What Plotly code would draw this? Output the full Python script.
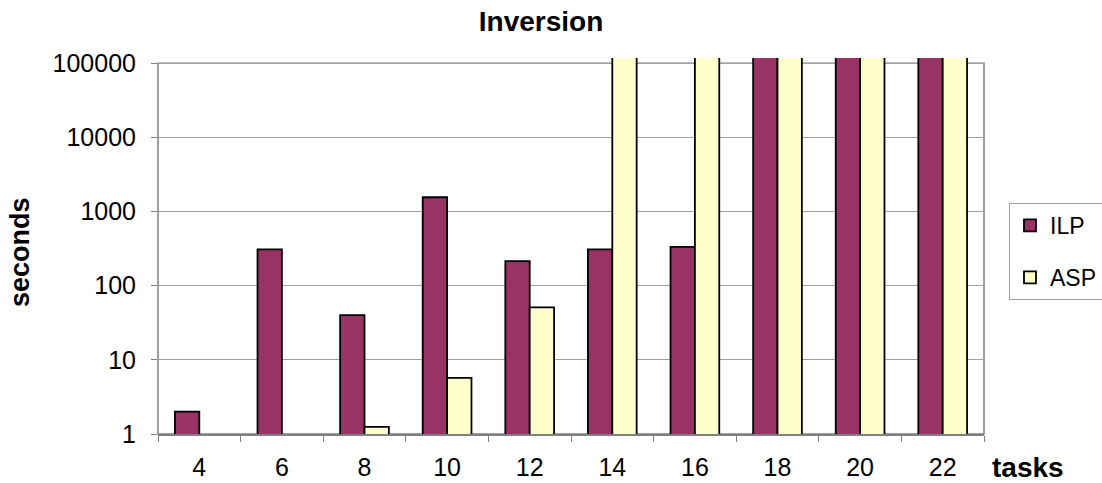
import math
import plotly.graph_objects as go

# Timing results (seconds) per number of tasks; runs that hit the limit
# are stored as the timeout value and run off the top of the axis.
TIMEOUT = 1000000
tasks = ["4", "6", "8", "10", "12", "14", "16", "18", "20", "22"]
ilp_seconds = [2, 310, 40, 1560, 215, 310, 335, TIMEOUT, TIMEOUT, TIMEOUT]
asp_seconds = [None, None, 1.25, 5.7, 51, TIMEOUT, TIMEOUT, TIMEOUT, TIMEOUT, TIMEOUT]
y_tick_values = [1, 10, 100, 1000, 10000, 100000]
y_tick_labels = ["1", "10", "100", "1000", "10000", "100000"]

FONT = "Liberation Sans, Arial, sans-serif"
W, H = 1102, 483
M_L, M_R, M_T, M_B = 158, 118, 58, 49
PW, PH = W - M_L - M_R, H - M_T - M_B
# log10 range: a little headroom above 100000 so timed-out bars poke out
Y_TOP = 5.0714
frame_top = math.log10(100000) / Y_TOP

fig = go.Figure()
fig.add_trace(go.Bar(
    x=tasks, y=ilp_seconds, name="ILP", legendgroup="ilp",
    marker=dict(color="#993366", line=dict(color="#000000", width=1.8)),
))
fig.add_trace(go.Bar(
    x=tasks, y=asp_seconds, name="ASP", legendgroup="asp",
    marker=dict(color="#FFFFCC", line=dict(color="#000000", width=1.8)),
))

fig.update_layout(
    width=W, height=H,
    margin=dict(l=M_L, r=M_R, t=M_T, b=M_B, pad=0, autoexpand=False),
    paper_bgcolor="white", plot_bgcolor="white",
    font=dict(family=FONT, size=25, color="black"),
    barmode="group", bargap=0.41, bargroupgap=0,
    showlegend=True,
    legend=dict(
        x=(1009 - M_L) / PW, xanchor="left",
        y=(H - M_B - 203) / PH, yanchor="top",
        bordercolor="#A0A0A0", borderwidth=1, bgcolor="white",
        font=dict(family=FONT, size=23, color="black"),
        tracegroupgap=19,
    ),
    title=dict(
        text="<b>Inversion</b>", xref="container", x=541 / W, xanchor="center",
        yref="container", y=1 - 21 / H, yanchor="middle",
        font=dict(family=FONT, size=28, color="black"),
    ),
)

fig.update_xaxes(
    type="category", showgrid=False, zeroline=False,
    showline=True, linecolor="#808080", linewidth=1.5,
    ticks="outside", tickson="boundaries", ticklen=6, tickcolor="#808080",
    ticklabelstandoff=10,
    tickfont=dict(family=FONT, size=25, color="black"),
)
fig.update_yaxes(
    type="log", range=[0, Y_TOP],
    tickvals=y_tick_values, ticktext=y_tick_labels,
    showgrid=True, gridcolor="#A0A0A0", gridwidth=1,
    zeroline=False, showline=False,
    ticks="outside", ticklen=6, tickcolor="#808080",
    ticklabelstandoff=10,
    tickfont=dict(family=FONT, size=25, color="black"),
)

# plot-area frame, stopping at the 100000 line
fig.add_shape(type="rect", xref="paper", yref="paper",
              x0=0, x1=1, y0=0, y1=frame_top,
              line=dict(color="#808080", width=1.5), layer="below")

fig.add_annotation(
    text="<b>seconds</b>", textangle=-90, showarrow=False,
    xref="paper", yref="paper",
    x=(20 - M_L) / PW, y=(H - M_B - 252) / PH,
    xanchor="center", yanchor="middle",
    font=dict(family=FONT, size=27, color="black"),
)
fig.add_annotation(
    text="<b>tasks</b>", showarrow=False,
    xref="paper", yref="paper",
    x=(990 - M_L) / PW, y=(H - M_B - 467) / PH,
    xanchor="left", yanchor="middle",
    font=dict(family=FONT, size=28, color="black"),
)

fig.write_html("out.html")
